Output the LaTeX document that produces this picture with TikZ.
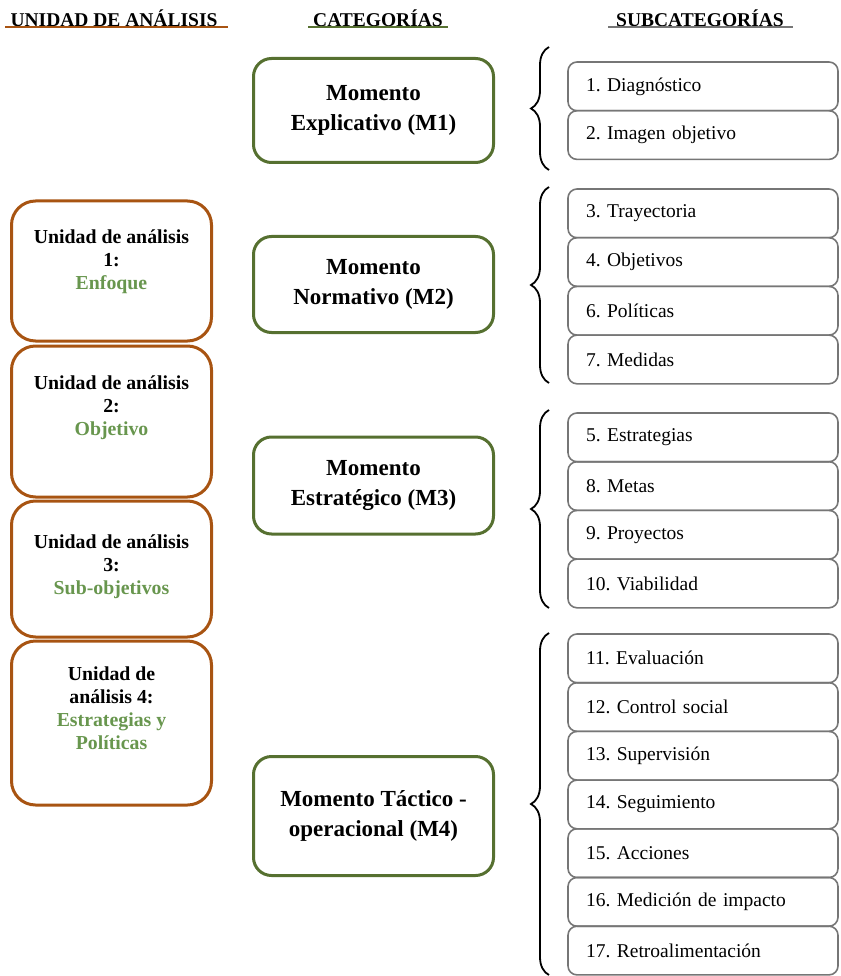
\documentclass[tikz,border=0pt]{standalone}
\usepackage{fontspec}
\setmainfont{Liberation Serif}
\usetikzlibrary{positioning,decorations.pathreplacing}

\definecolor{unitbrown}{RGB}{168,84,18}
\definecolor{catgreen}{RGB}{86,112,48}
\definecolor{textgreen}{RGB}{104,150,78}
\definecolor{subgray}{RGB}{118,118,118}

\tikzset{
    header/.style={font=\fontsize{19.5}{22}\selectfont\bfseries},
    unitbox/.style={draw=unitbrown, line width=3pt, rounded corners=24pt,
        minimum width=200pt, inner sep=0pt},
    unittext/.style={align=center, font=\fontsize{19.8}{23}\selectfont\bfseries},
    catbox/.style={draw=catgreen, line width=3pt, rounded corners=18pt,
        minimum width=240pt, align=center,
        font=\fontsize{23}{30}\selectfont\bfseries},
    subbox/.style={draw=subgray, line width=1.6pt, rounded corners=9pt,
        minimum height=48.7pt, text width=234pt, inner xsep=18pt, inner ysep=0pt,
        align=left, font=\fontsize{19.5}{22}\selectfont\frenchspacing},
    bracket/.style={draw, line width=1.8pt,
        decorate, decoration={brace, amplitude=18pt}}
}

\begin{document}
\begin{tikzpicture}[x=1pt, y=1pt]
    \useasboundingbox (0,0) rectangle (840,-976);

    % 1. Encabezados
    \node[header] (hunit) at (114,-18) {UNIDAD DE ANÁLISIS};
    \node[header] (hcat) at (378,-18) {CATEGORÍAS};
    \node[header] (hsub) at (700,-18) {SUBCATEGORÍAS};
    \draw[unitbrown, line width=1.5pt] (5,-27) -- (228,-27);
    \draw[catgreen, line width=1.5pt] (308,-27) -- (448,-27);
    \draw[subgray, line width=1.5pt] (608,-27) -- (793,-27);

    % 2. Unidades de analisis
    \node[unitbox, minimum height=140pt] (u1) at (111.5,-271) {};
    \node[unitbox, minimum height=151pt] (u2) at (111.5,-421.5) {};
    \node[unitbox, minimum height=136pt] (u3) at (111.5,-569) {};
    \node[unitbox, minimum height=164pt] (u4) at (111.5,-723) {};
    \node[unittext] (u1t) at (111.5,-262) {Unidad de análisis\\1:\\\textcolor{textgreen}{Enfoque}};
    \node[unittext] (u2t) at (111.5,-408) {Unidad de análisis\\2:\\\textcolor{textgreen}{Objetivo}};
    \node[unittext] (u3t) at (111.5,-567) {Unidad de análisis\\3:\\\textcolor{textgreen}{Sub-objetivos}};
    \node[unittext] (u4t) at (111.5,-708) {Unidad de\\análisis 4:\\\textcolor{textgreen}{Estrategias y}\\\textcolor{textgreen}{Políticas}};

    % 3. Categorias
    \node[catbox, minimum height=104pt] (m1) at (373.5,-110.5) {Momento\\Explicativo (M1)};
    \node[catbox, minimum height=96pt] (m2) at (373.5,-284.5) {Momento\\Normativo (M2)};
    \node[catbox, minimum height=97pt] (m3) at (373.5,-485.5) {Momento\\Estratégico (M3)};
    \node[catbox, minimum height=119pt] (m4) at (373.5,-816) {Momento Táctico -\\operacional (M4)};

    % 4. Subcategorias
    \foreach \n/\t [count=\k from 0] in {1/Diagnóstico, 2/Imagen objetivo}
        \node[subbox] (s\n) at (703,{-86.35-\k*48.7}) {\n. \t};
    \foreach \n/\t [count=\k from 0] in {3/Trayectoria, 4/Objetivos, 6/Políticas, 7/Medidas}
        \node[subbox] (s\n) at (703,{-213.35-\k*48.7}) {\n. \t};
    \foreach \n/\t [count=\k from 0] in {5/Estrategias, 8/Metas, 9/Proyectos, 10/Viabilidad}
        \node[subbox] (s\n) at (703,{-437.35-\k*48.7}) {\n. \t};
    \foreach \n/\t [count=\k from 0] in {11/Evaluación, 12/Control social, 13/Supervisión,
        14/Seguimiento, 15/Acciones, 16/Medición de impacto, 17/Retroalimentación}
        \node[subbox] (s\n) at (703,{-658.35-\k*48.7}) {\n. \t};

    % 5. Llaves
    \coordinate (b1a) at (549,-170);
    \coordinate (b1b) at (549,-47);
    \coordinate (b2a) at (549,-383);
    \coordinate (b2b) at (549,-187);
    \coordinate (b3a) at (549,-608);
    \coordinate (b3b) at (549,-410);
    \coordinate (b4a) at (549,-975);
    \coordinate (b4b) at (549,-633);
    \draw[bracket] (b1a) -- (b1b);
    \draw[bracket] (b2a) -- (b2b);
    \draw[bracket] (b3a) -- (b3b);
    \draw[bracket] (b4a) -- (b4b);
\end{tikzpicture}
\end{document}
